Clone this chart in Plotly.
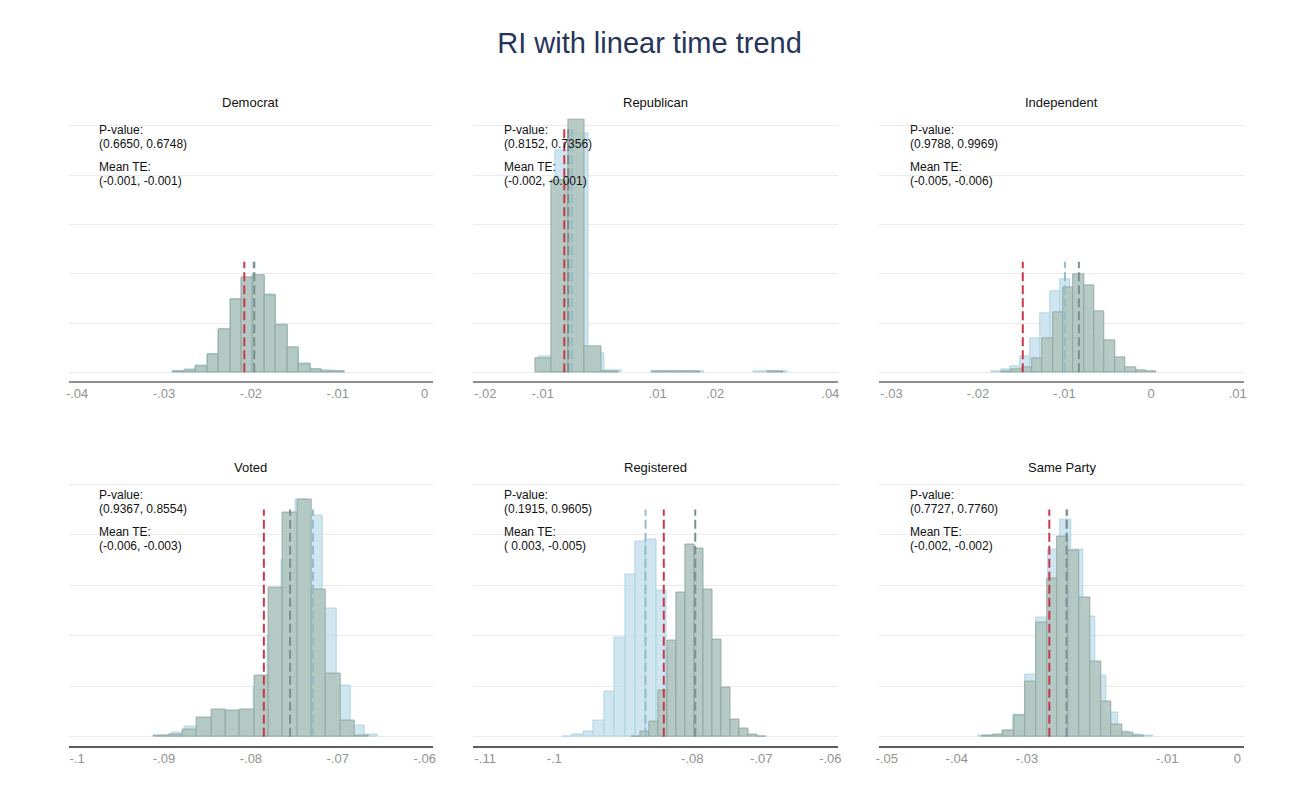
import plotly.graph_objects as go

W, H = 1299, 808

# ---------------- data ----------------
panel_titles = ["Democrat", "Republican", "Independent", "Voted", "Registered", "Same Party"]
pvalue_text = ["(0.6650, 0.6748)", "(0.8152, 0.7356)", "(0.9788, 0.9969)",
               "(0.9367, 0.8554)", "(0.1915, 0.9605)", "(0.7727, 0.7760)"]
mean_te_text = ["(-0.001, -0.001)", "(-0.002, -0.001)", "(-0.005, -0.006)",
                "(-0.006, -0.003)", "( 0.003, -0.005)", "(-0.002, -0.002)"]

# x tick values / labels per panel
tick_vals = [[-0.04, -0.03, -0.02, -0.01, 0.0],
             [-0.02, -0.01, 0.01, 0.02, 0.04],
             [-0.03, -0.02, -0.01, 0.0, 0.01],
             [-0.10, -0.09, -0.08, -0.07, -0.06],
             [-0.11, -0.10, -0.08, -0.07, -0.06],
             [-0.05, -0.04, -0.03, -0.01, 0.0]]
tick_text = [["-.04", "-.03", "-.02", "-.01", "0"],
             ["-.02", "-.01", ".01", ".02", ".04"],
             ["-.03", "-.02", "-.01", "0", ".01"],
             ["-.1", "-.09", "-.08", "-.07", "-.06"],
             ["-.11", "-.1", "-.08", "-.07", "-.06"],
             ["-.05", "-.04", "-.03", "-.01", "0"]]
x_ranges = [[-0.04097, 0.000915],
            [-0.02204, 0.04142],
            [-0.03141, 0.01076],
            [-0.10097, -0.059085],
            [-0.1117, -0.05882],
            [-0.05106, 0.00099]]

# histogram of first set of draws (grey-green): first bin left edge, bin width, heights
green_start = [-0.02896, -0.01132, -0.01731, -0.09117, -0.08879, -0.03641]
green_width = [0.001316, 0.002882, 0.001195, 0.001651, 0.001300, 0.00154]
dem_green = [0.027, 0.047, 0.128, 0.365, 0.872, 1.48, 1.92, 1.96, 1.57, 0.96, 0.50, 0.17, 0.06, 0.027, 0.014]
rep_green = [0.28, 3.89, 5.12, 0.52, 0.02, 0, 0, 0.012, 0.012, 0.012, 0, 0, 0, 0, 0.015]
ind_green = [0.014, 0.06, 0.09, 0.28, 0.69, 1.21, 1.72, 1.99, 1.76, 1.24, 0.64, 0.30, 0.10, 0.03, 0.014]
vot_green = [0.013, 0.046, 0.15, 0.38, 0.53, 0.52, 0.53, 1.21, 2.95, 4.43, 4.69, 2.91, 1.25, 0.32, 0.013]
reg_green = [0.01, 0.10, 0.30, 0.91, 1.90, 2.85, 3.80, 3.72, 2.91, 1.92, 0.97, 0.34, 0.17, 0.05, 0.01]
sam_green = [0.013, 0.05, 0.13, 0.41, 1.09, 2.25, 3.14, 3.96, 3.69, 2.76, 1.49, 0.69, 0.24, 0.08, 0.013]

# histogram of second set of draws (light blue)
blue_start = [-0.02896, -0.01075, -0.01851, -0.09076, -0.09883, -0.03688]
blue_width = [0.001316, 0.002882, 0.00114, 0.001587, 0.001513, 0.001655]
dem_blue = [0.02, 0.05, 0.14, 0.37, 0.88, 1.47, 1.90, 1.97, 1.58, 0.97, 0.49, 0.18, 0.06, 0.03, 0.02]
rep_blue = [0.33, 4.51, 4.85, 0.385, 0.03, 0, 0, 0.012, 0.012, 0.012, 0, 0, 0, 0.015, 0.015]
ind_blue = [0.01, 0.05, 0.11, 0.33, 0.69, 1.20, 1.64, 1.89, 1.62, 1.30, 0.75, 0.35, 0.12, 0.04, 0.01]
vot_blue = [0.02, 0.08, 0.20, 0.35, 0.45, 0.50, 0.50, 1.0, 2.0, 3.5, 4.70, 4.37, 2.53, 1.02, 0.23, 0.05]
reg_blue = [0.01, 0.05, 0.10, 0.32, 0.90, 1.96, 3.20, 3.86, 3.90, 2.89, 1.75, 0.85, 0.30, 0.10, 0.03]
sam_blue = [0.013, 0.03, 0.12, 0.43, 1.22, 2.36, 3.70, 4.29, 3.70, 2.38, 1.21, 0.48, 0.11, 0.05, 0.013]

green_heights = [dem_green, rep_green, ind_green, vot_green, reg_green, sam_green]
blue_heights = [dem_blue, rep_blue, ind_blue, vot_blue, reg_blue, sam_blue]

# vertical reference lines: observed estimate (red), mean of grey draws, mean of blue draws
red_line_x = [-0.02076, -0.00625, -0.01483, -0.07851, -0.08413, -0.02681]
grey_line_x = [-0.01961, -0.00556, -0.00835, -0.07549, -0.07957, -0.02435]
blue_line_x = [-0.01969, -0.00492, -0.00996, -0.07286, -0.08677, -0.02426]
line_top = [2.24, 5.0, 2.24, 4.5, 4.5, 4.5]

# ---------------- styling ----------------
FONT = "Liberation Sans, Arial, sans-serif"
GREEN_FILL = "rgba(178,198,192,0.92)"
GREEN_EDGE = "rgb(146,170,162)"
BLUE_FILL = "rgba(195,223,235,0.8)"
BLUE_EDGE = "rgb(175,213,229)"
RED = "#c9374c"
GREY_DASH = "#7d8f89"
BLUE_DASH = "#93bccd"

col_px = [(65, 431), (472, 839), (880, 1247)]
row_px = [(118.4, 380.5), (476.6, 745.5)]
row_yrange = [[-0.166, 5.15], [-0.174, 5.15]]
axis_line_col = ["#8f8f8f", "#5e5e5e"]
row_shift = [0, 365]


def bars(start, width, heights):
    xs, ys = [], []
    for k, h in enumerate(heights):
        if h > 0:
            xs.append(start + width * (k + 0.5))
            ys.append(h)
    return xs, ys


fig = go.Figure()
annotations = []
layout = {}

for i in range(6):
    r, c = divmod(i, 3)
    ax = "" if i == 0 else str(i + 1)
    xa, ya = "x" + ax, "y" + ax

    layout["xaxis" + ax] = dict(
        domain=[col_px[c][0] / W, col_px[c][1] / W], anchor=ya,
        range=x_ranges[i], tickvals=tick_vals[i], ticktext=tick_text[i],
        showgrid=False, zeroline=False, showline=True,
        linecolor=axis_line_col[r], linewidth=1.6, ticks="",
        tickfont=dict(family=FONT, size=13, color="#929292"),
        fixedrange=True)
    layout["yaxis" + ax] = dict(
        domain=[1 - row_px[r][1] / H, 1 - row_px[r][0] / H], anchor=xa,
        range=row_yrange[r], tickvals=[0, 1, 2, 3, 4, 5], showticklabels=False,
        showgrid=True, gridcolor="#ebebeb", gridwidth=1, zeroline=False,
        showline=False, ticks="", fixedrange=True)

    bx, by = bars(blue_start[i], blue_width[i], blue_heights[i])
    fig.add_trace(go.Bar(
        x=bx, y=by, width=blue_width[i],
        marker=dict(color=BLUE_FILL, line=dict(color=BLUE_EDGE, width=1)),
        xaxis=xa, yaxis=ya, showlegend=False))
    gx, gy = bars(green_start[i], green_width[i], green_heights[i])
    fig.add_trace(go.Bar(
        x=gx, y=gy, width=green_width[i],
        marker=dict(color=GREEN_FILL, line=dict(color=GREEN_EDGE, width=1)),
        xaxis=xa, yaxis=ya, showlegend=False))

    for lx, lc in [(blue_line_x[i], BLUE_DASH), (grey_line_x[i], GREY_DASH), (red_line_x[i], RED)]:
        fig.add_trace(go.Scatter(
            x=[lx, lx], y=[0, line_top[i]], mode="lines",
            line=dict(color=lc, width=2, dash="9px,4px"),
            xaxis=xa, yaxis=ya, showlegend=False, hoverinfo="skip"))

    # subplot title
    annotations.append(dict(
        text=panel_titles[i], xref="paper", yref="paper",
        x=(col_px[c][0] + col_px[c][1]) / 2 / W, y=1 - (102.7 + row_shift[r]) / H,
        xanchor="center", yanchor="middle", showarrow=False,
        font=dict(family=FONT, size=13, color="#111111")))
    # statistics text
    for txt, yc in [("P-value:", 130.0), (pvalue_text[i], 143.6),
                    ("Mean TE:", 167.3), (mean_te_text[i], 180.7)]:
        annotations.append(dict(
            text=txt, xref="paper", yref="paper",
            x=(col_px[c][0] + 29) / W, y=1 - (yc + row_shift[r]) / H,
            xanchor="left", yanchor="middle", showarrow=False,
            font=dict(family=FONT, size=12, color="#111111")))

fig.update_layout(
    width=W, height=H,
    margin=dict(l=0, r=0, t=0, b=0),
    paper_bgcolor="white", plot_bgcolor="white",
    barmode="overlay", bargap=0,
    title=dict(text="RI with linear time trend", x=0.5, xanchor="center",
               y=1 - 43 / H, yanchor="middle",
               font=dict(family=FONT, size=29, color="#26355c")),
    annotations=annotations,
    showlegend=False,
    **layout)

fig.write_html("out.html")
